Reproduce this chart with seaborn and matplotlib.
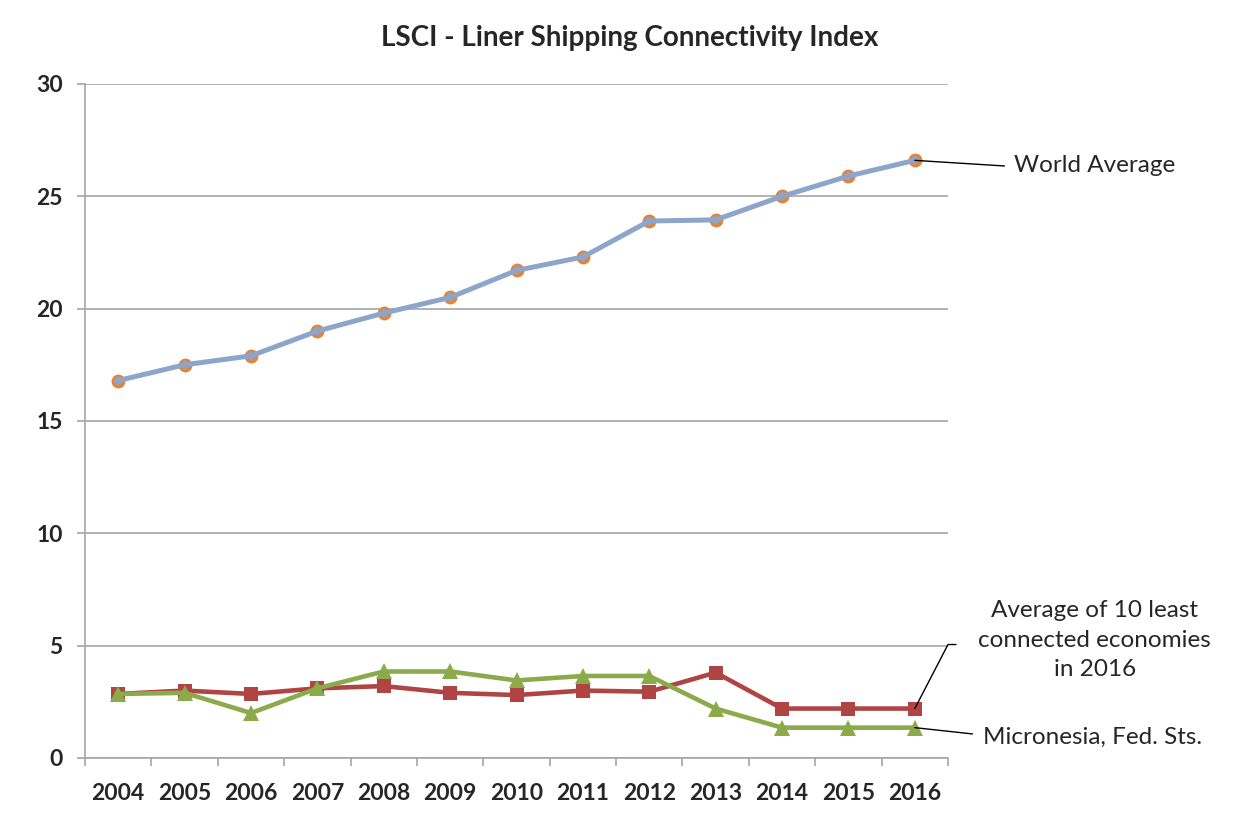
import matplotlib
matplotlib.use("Agg")
import matplotlib.pyplot as plt
import seaborn as sns
import pandas as pd

# valeurs
years = list(range(2004, 2017))
world_avg = [16.8, 17.5, 17.9, 19.0, 19.8, 20.5, 21.7, 22.3, 23.9, 23.95, 25.0, 25.9, 26.6]
least_10 = [2.85, 3.0, 2.85, 3.1, 3.2, 2.9, 2.8, 3.0, 2.95, 3.8, 2.2, 2.2, 2.2]
micronesia = [2.85, 2.9, 2.0, 3.1, 3.85, 3.85, 3.45, 3.65, 3.65, 2.2, 1.35, 1.35, 1.35]

sns.set_style("white")
plt.rcParams['font.family'] = ['Lato', 'DejaVu Sans']

fig = plt.figure(figsize=(12.5, 8.16), dpi=100)
ax = fig.add_axes([0.068, 0.0711, 0.6904, 0.826])

# moyenne mondiale : cercles orange sous une ligne bleue
sns.lineplot(x=years, y=world_avg, ax=ax, color='#E0853B', linewidth=0,
             marker='o', markersize=10, markeredgewidth=0, zorder=3)
sns.lineplot(x=years, y=world_avg, ax=ax, color='#8EA5CB', linewidth=3.6,
             marker='D', markersize=5, markeredgewidth=0, zorder=4)
sns.lineplot(x=years, y=least_10, ax=ax, color='#B04443', linewidth=3.3,
             marker='s', markersize=10, markeredgewidth=0, zorder=4)
sns.lineplot(x=years, y=micronesia, ax=ax, color='#8BAA4A', linewidth=3.3,
             marker='^', markersize=11, markeredgewidth=0, zorder=5)

ax.set_xlim(2003.5, 2016.5)
ax.set_ylim(0, 30)
ax.set_yticks(range(0, 31, 5))
ax.yaxis.grid(True, color='#A6A6A6', linewidth=1.2)
ax.xaxis.grid(False)
ax.set_xticks([y + 0.5 for y in range(2003, 2017)])
ax.set_xticklabels([])
ax.set_xticks(years, minor=True)
ax.set_xticklabels([str(y) for y in years], minor=True, fontweight='bold', fontsize=16.5)
ax.tick_params(axis='x', which='major', length=6, color='#A6A6A6', width=1.2, direction='out', bottom=True)
ax.tick_params(axis='x', which='minor', length=0, pad=18)
ax.tick_params(axis='y', length=6, color='#A6A6A6', width=1.2, direction='out', left=True, pad=10)
for lab in ax.get_yticklabels():
    lab.set_fontweight('bold')
    lab.set_fontsize(16.5)
for side in ['top', 'right']:
    ax.spines[side].set_visible(False)
for side in ['left', 'bottom']:
    ax.spines[side].set_color('#A6A6A6')
    ax.spines[side].set_linewidth(1.2)

fig.text(0.504, 0.953, "LSCI - Liner Shipping Connectivity Index", ha='center', va='center',
         fontsize=20, fontweight='bold')

# étiquettes avec traits de rappel
ax.plot([2016, 2017.35], [world_avg[-1], 26.35], color='black', lw=1, clip_on=False, zorder=6)
ax.text(2017.5, 26.35, "World Average", ha='left', va='center', fontsize=17.5)
ax.plot([2016, 2016.5, 2016.62], [least_10[-1], 5.05, 5.05], color='black', lw=1,
        clip_on=False, zorder=6)
ax.text(2018.71, 5.25, "Average of 10 least\nconnected economies\nin 2016", ha='center', va='center',
        fontsize=17.5, linespacing=1.5)
ax.plot([2016, 2016.87], [micronesia[-1], 1.07], color='black', lw=1, clip_on=False, zorder=6)
ax.text(2017.02, 0.92, "Micronesia, Fed. Sts.", ha='left', va='center', fontsize=17.5)

fig.savefig("out.png", dpi=100)
